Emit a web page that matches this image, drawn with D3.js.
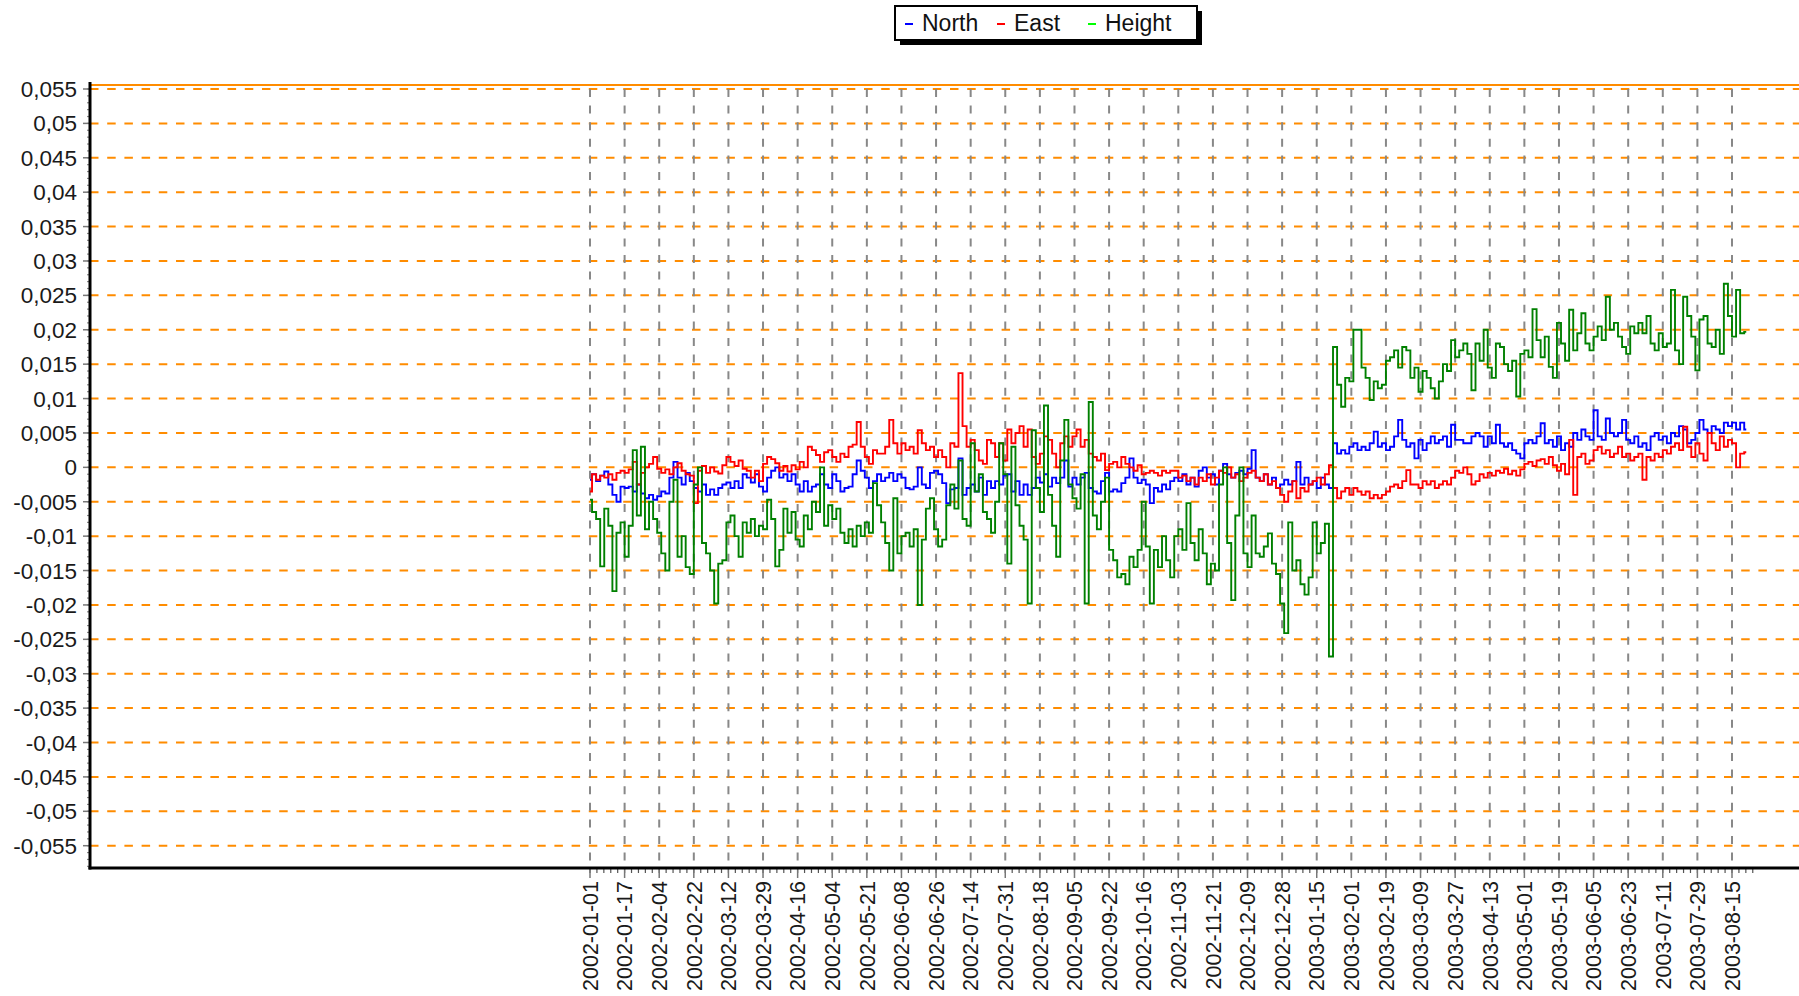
<!DOCTYPE html>
<html>
<head>
<meta charset="utf-8">
<script src="https://cdnjs.cloudflare.com/ajax/libs/d3/7.8.5/d3.min.js"></script>
<style>
  body { margin: 0; background: #fff; }
  svg { display: block; font-family: "Liberation Sans", Arial, sans-serif; }
</style>
</head>
<body>
<div id="chart"></div>
<script>
// tick labels on the x axis (one every 17 daily solutions)
const tickDates = ['2002-01-01','2002-01-17','2002-02-04','2002-02-22','2002-03-12','2002-03-29',
  '2002-04-16','2002-05-04','2002-05-21','2002-06-08','2002-06-26','2002-07-14','2002-07-31',
  '2002-08-18','2002-09-05','2002-09-22','2002-10-16','2002-11-03','2002-11-21','2002-12-09',
  '2002-12-28','2003-01-15','2003-02-01','2003-02-19','2003-03-09','2003-03-27','2003-04-13',
  '2003-05-01','2003-05-19','2003-06-05','2003-06-23','2003-07-11','2003-07-29','2003-08-15'];

// values in mm, every second solution
const north = [
  -1.8,-1.0,-2.0,-1.2,-0.6,-2.5,-4.0,-5.0,-2.8,-3.0,-2.8,-3.5,-2.5,-3.8,-4.5,-4.0,-4.7,-4.2,-3.5,-3.8,
  -1.5,0.8,-1.5,-2.5,-0.8,-2.0,-3.0,-3.5,-2.5,-4.0,-3.2,-4.0,-3.0,-2.5,-2.2,-3.0,-2.0,-3.0,-1.0,-1.5,
  -2.2,-1.0,-2.8,-3.5,-1.5,-0.5,0.0,-1.5,-1.0,-2.0,-1.0,-2.5,-3.5,-2.0,-3.5,-2.8,-2.5,-1.0,-2.5,-3.0,
  -1.0,-2.0,-3.5,-3.0,-2.8,-1.0,1.0,-0.5,-1.5,-3.0,-2.0,-1.0,
  -2.0,-1.5,-0.8,-2.0,-1.0,-1.5,-3.0,-3.2,-2.8,0.0,-2.5,-3.0,-0.8,-0.5,-1.0,-2.3,-5.2,-3.2,-3.0,1.3,
  -4.0,-3.0,-2.5,-3.5,-1.5,-4.0,-2.0,-3.0,-2.0,-2.5,-1.2,-1.0,-3.5,-2.0,-4.0,-2.5,-4.0,-3.0,-1.5,-2.2,
  -1.0,-2.8,-1.5,-2.3,-1.5,1.0,-2.8,-1.5,-2.5,-1.5,-0.8,-3.0,-3.5,-3.8,-2.0,-0.8,-3.5,-3.2,-3.5,-2.3,
  -1.5,1.3,-1.5,-2.3,-1.8,-2.5,-5.2,-3.0,-3.5,-2.5,-3.2,-2.0,
  -1.5,-2.0,-1.0,-2.5,-1.5,-2.8,-0.5,0.0,-1.5,-1.0,-2.5,-0.5,0.5,-1.0,-1.5,-0.8,-0.5,-1.0,-0.2,2.5,
  -1.5,-2.0,-1.0,-2.5,-1.5,-3.0,-2.5,-1.8,-2.5,-2.0,0.8,-2.5,-1.5,-2.5,-2.0,-3.0,-1.5,-2.5,-3.0,3.5,
  2.0,2.5,2.0,3.0,3.5,2.5,3.0,2.5,3.5,5.2,3.0,3.5,2.5,3.0,4.5,6.9,4.0,3.0,3.5,1.3,
  4.0,2.5,3.5,4.5,3.5,4.0,4.5,3.0,6.2,4.0,4.0,3.5,
  3.5,4.5,5.0,4.5,3.0,4.5,3.5,6.2,3.5,3.0,3.5,2.5,2.0,1.3,3.5,4.0,3.5,4.5,6.4,3.5,
  4.0,3.0,4.5,2.5,3.5,3.0,5.0,4.0,5.5,4.5,4.0,8.3,4.5,4.0,7.1,5.0,4.5,5.0,6.9,4.0,
  3.5,4.5,3.0,3.5,2.5,4.5,5.0,4.0,4.5,3.5,5.0,4.5,6.0,5.5,3.5,4.0,5.0,6.9,5.5,5.0,
  6.0,5.5,5.0,6.5,6.0,6.5,5.5,6.5,5.5
];
const east = [
  -3.5,-1.0,-1.8,-1.2,-1.5,-1.0,-1.8,-0.8,-0.5,-0.8,-0.3,0.8,-2.5,-0.8,0.0,0.5,1.5,-0.2,-0.8,-0.3,
  -1.0,0.0,0.6,-0.5,-1.0,-1.2,-5.2,-0.5,0.2,-0.8,0.0,-0.6,-0.9,0.3,1.5,0.8,0.2,1.0,-0.2,-0.5,
  -1.5,-0.5,-2.0,0.5,1.5,1.2,0.6,-0.5,0.2,-0.6,0.3,-0.3,0.8,0.0,3.0,2.5,1.8,0.8,2.2,2.5,
  1.5,0.8,2.0,1.5,3.0,3.3,6.6,3.0,1.5,0.5,2.5,2.0,
  2.0,3.0,6.9,3.5,2.0,3.5,2.5,3.0,2.0,5.4,3.5,2.5,3.0,1.5,2.5,1.5,0.0,3.5,3.0,13.7,
  6.0,3.0,4.0,2.5,1.0,0.5,4.0,3.5,1.5,3.5,1.0,5.5,3.5,5.0,6.0,3.0,5.5,1.5,0.5,2.0,
  4.5,4.0,2.0,0.0,3.5,4.5,3.0,4.5,5.5,3.0,4.0,2.0,1.5,1.0,2.0,-0.4,0.5,0.8,0.0,1.5,
  0.5,0.0,-0.5,0.3,-1.0,-0.8,-0.5,-0.8,-1.2,-0.5,-0.8,-0.5,
  -0.5,-1.5,-1.2,-2.0,-1.5,-2.5,-1.5,-2.0,-1.0,-2.5,-1.5,-0.5,-0.8,0.0,-1.5,-1.0,-2.0,-1.5,-0.8,-0.5,
  -1.5,-2.0,-1.0,-2.5,-2.0,-3.0,-4.0,-5.0,-3.5,-2.0,-4.5,-3.0,-3.5,-2.5,-2.0,-1.5,-2.5,-1.0,0.3,-3.0,
  -4.5,-3.5,-3.0,-4.0,-3.0,-3.5,-4.0,-3.5,-4.5,-4.0,-4.5,-4.0,-3.5,-2.8,-2.5,-3.0,-2.0,-0.4,-2.5,-2.5,
  -3.0,-2.0,-2.5,-2.0,-3.0,-2.5,-2.0,-2.5,-1.5,-0.5,-0.8,0.0,
  -1.0,-2.5,-2.0,-1.0,-1.5,-0.8,-1.2,-0.5,-0.8,-0.2,-1.0,-0.5,-1.2,-0.3,0.5,0.8,0.2,1.0,1.2,0.5,
  1.5,0.3,-0.5,0.5,-1.0,4.0,-4.0,1.5,2.0,0.5,1.0,2.5,3.0,2.0,2.5,1.5,2.0,3.0,1.5,2.0,
  1.0,1.5,2.0,-1.8,1.5,1.0,2.0,1.5,2.5,2.0,3.0,3.5,2.5,5.9,3.0,1.5,3.5,2.0,1.0,5.0,
  3.5,2.5,4.5,3.0,4.0,3.5,0.0,2.0,2.2
];
const height = [
  -4.7,-6.5,-7.5,-14.4,-6.0,-8.5,-18.0,-9.5,-8.0,-13.0,-8.5,2.5,-7.0,3.0,-9.0,-5.0,-7.5,-9.5,-12.5,-15.0,
  -5.0,-1.8,-13.0,-10.0,-14.5,-15.5,-2.5,0.0,-11.0,-12.5,-15.0,-19.8,-14.0,-13.5,-8.0,-7.0,-10.0,-13.0,-8.0,-9.5,
  -7.5,-10.0,-8.5,-9.0,-4.7,-7.5,-14.4,-12.0,-6.0,-9.5,-6.5,-10.5,-11.5,-7.0,-9.0,-5.0,-6.5,0.0,-8.5,-5.5,
  -7.5,-6.0,-9.5,-11.0,-9.0,-11.5,-8.5,-10.0,-8.0,-9.5,-2.3,-5.5,
  -8.0,-11.0,-15.0,-4.5,-12.5,-10.0,-9.5,-11.5,-9.0,-20.0,-10.5,-6.0,-4.5,-9.0,-11.5,-10.5,-5.5,-2.5,-6.0,1.0,
  -7.5,-8.5,3.5,-3.5,-1.0,-6.5,-7.5,-9.5,-5.0,3.5,-1.0,-14.0,3.0,-5.5,-8.5,-10.5,-19.8,5.4,-3.0,-6.5,
  9.0,-4.0,-8.5,-13.0,1.0,6.9,-2.5,-4.5,-6.0,-1.0,-19.8,9.5,-7.0,-9.0,-5.0,-1.5,-12.0,-13.5,-16.0,-15.5,
  -17.0,-13.0,-14.5,-12.0,-5.0,-11.5,-19.8,-12.0,-14.5,-10.0,-13.5,-16.0,
  -10.0,-9.0,-12.0,-5.2,-11.0,-13.5,-9.0,-12.5,-17.0,-14.0,-15.0,-2.5,0.0,-11.0,-19.3,-7.0,0.0,-12.5,-14.5,-7.0,
  -12.5,-13.0,-11.5,-9.6,-14.0,-15.5,-19.8,-24.1,-8.0,-15.0,-13.5,-17.0,-18.5,-16.0,-8.0,-12.5,-11.0,-8.2,-27.5,17.5,
  12.0,8.8,13.0,12.5,20.0,20.0,14.5,13.0,9.8,12.5,11.5,12.0,15.5,16.0,17.0,14.5,17.5,17.0,13.0,14.5,
  11.0,14.0,13.0,11.5,10.0,12.5,15.0,14.0,18.5,16.0,17.0,18.0,
  16.5,11.2,18.0,15.5,20.0,14.5,13.0,18.0,17.5,15.0,14.0,15.5,10.3,16.5,17.0,16.0,23.0,18.5,16.0,19.0,
  14.6,13.0,21.0,18.0,15.5,22.9,17.0,19.5,22.4,18.0,17.0,19.0,20.5,18.5,24.8,20.0,21.0,19.0,17.5,16.5,
  20.5,19.5,21.0,19.5,22.0,18.0,17.0,19.5,17.5,18.0,25.8,17.0,15.0,24.8,22.0,19.0,14.1,21.5,22.0,18.0,
  17.5,20.0,16.5,26.7,22.0,19.0,25.8,19.5,19.7
];

const seriesNames = ['North', 'East', 'Height'];
const lineColors = ['#0000ff', '#ff0000', '#008000'];
const legendColors = ['#0000ff', '#ff0000', '#00ff00'];
const yTicks = d3.range(-11, 12).map(k => k * 0.005);

const W = 1799, H = 996;
const plotLeft = 90, plotTop = 85, plotBottom = 868;
const perTick = 17, step = 2;

const svg = d3.select('#chart').append('svg')
  .attr('width', W)
  .attr('height', H);

const x = d3.scaleLinear()
  .domain([0, (tickDates.length - 1) * perTick])
  .range([590, 1732]);
const y = d3.scaleLinear()
  .domain([-0.055, 0.055])
  .range([845.7, 89]);

// horizontal orange grid
svg.append('g').selectAll('line')
  .data(yTicks)
  .enter().append('line')
  .attr('x1', plotLeft).attr('x2', W)
  .attr('y1', d => y(d)).attr('y2', d => y(d))
  .attr('stroke', '#ff8c00')
  .attr('stroke-width', 2)
  .attr('stroke-dasharray', '8.5,8.7');

svg.append('line')
  .attr('x1', plotLeft).attr('x2', W)
  .attr('y1', plotTop).attr('y2', plotTop)
  .attr('stroke', '#ff8c00')
  .attr('stroke-width', 2);

// vertical grey grid
svg.append('g').selectAll('line')
  .data(tickDates)
  .enter().append('line')
  .attr('x1', (d, i) => x(i * perTick)).attr('x2', (d, i) => x(i * perTick))
  .attr('y1', plotTop + 4).attr('y2', plotBottom)
  .attr('stroke', '#888')
  .attr('stroke-width', 2)
  .attr('stroke-dasharray', '8,8.6');

// y ticks
const minorY = d3.range(-58, 56).map(k => k * 0.001);
svg.append('g').selectAll('line')
  .data(minorY)
  .enter().append('line')
  .attr('x1', plotLeft - 3).attr('x2', plotLeft)
  .attr('y1', d => y(d)).attr('y2', d => y(d))
  .attr('stroke', '#888')
  .attr('stroke-width', 1.2);
svg.append('g').selectAll('line')
  .data(yTicks)
  .enter().append('line')
  .attr('x1', plotLeft - 7).attr('x2', plotLeft)
  .attr('y1', d => y(d)).attr('y2', d => y(d))
  .attr('stroke', '#777')
  .attr('stroke-width', 1.5);

const fmt = v => String(Math.round(v * 1000) / 1000).replace('.', ',');
svg.append('g').selectAll('text')
  .data(yTicks)
  .enter().append('text')
  .attr('x', 77)
  .attr('y', d => y(d))
  .attr('dy', '0.36em')
  .attr('text-anchor', 'end')
  .attr('font-size', 22.5)
  .attr('fill', '#1a1a1a')
  .text(fmt);

// x ticks
const minorX = d3.range(0, (tickDates.length - 1) * 5 + 4).map(k => k * perTick / 5);
svg.append('g').selectAll('line')
  .data(minorX)
  .enter().append('line')
  .attr('x1', d => x(d)).attr('x2', d => x(d))
  .attr('y1', plotBottom).attr('y2', plotBottom + 5)
  .attr('stroke', '#555')
  .attr('stroke-width', 1.2);
svg.append('g').selectAll('line')
  .data(tickDates)
  .enter().append('line')
  .attr('x1', (d, i) => x(i * perTick)).attr('x2', (d, i) => x(i * perTick))
  .attr('y1', plotBottom).attr('y2', plotBottom + 10)
  .attr('stroke', '#777')
  .attr('stroke-width', 1.5);

svg.append('g').selectAll('text')
  .data(tickDates)
  .enter().append('text')
  .attr('transform', (d, i) => `translate(${x(i * perTick)},881) rotate(-90)`)
  .attr('dy', '0.36em')
  .attr('text-anchor', 'end')
  .attr('font-size', 21.5)
  .attr('fill', '#1a1a1a')
  .text(d => d);

// series, drawn as steps like the low-res original
const line = d3.line()
  .curve(d3.curveStep)
  .x((d, i) => x(i * step))
  .y(d => y(d / 1000));

[north, east, height].forEach((s, k) => {
  svg.append('path')
    .datum(s)
    .attr('fill', 'none')
    .attr('stroke', lineColors[k])
    .attr('stroke-width', 1.9)
    .attr('d', line);
});

// axes
svg.append('line')
  .attr('x1', plotLeft).attr('x2', plotLeft)
  .attr('y1', plotTop - 3).attr('y2', plotBottom + 1.5)
  .attr('stroke', '#000').attr('stroke-width', 3);
svg.append('line')
  .attr('x1', plotLeft - 1.5).attr('x2', W)
  .attr('y1', plotBottom).attr('y2', plotBottom)
  .attr('stroke', '#000').attr('stroke-width', 3);

// legend
const lg = svg.append('g');
lg.append('rect')
  .attr('x', 900).attr('y', 11)
  .attr('width', 302).attr('height', 34)
  .attr('fill', '#000');
lg.append('rect')
  .attr('x', 895).attr('y', 6)
  .attr('width', 302).attr('height', 34)
  .attr('fill', '#fff')
  .attr('stroke', '#000').attr('stroke-width', 2);

const legendX = [905, 997, 1088];
const item = lg.selectAll('.item')
  .data(seriesNames)
  .enter().append('g')
  .attr('class', 'item')
  .attr('transform', (d, i) => `translate(${legendX[i]},0)`);
item.append('line')
  .attr('x1', 0).attr('x2', 8)
  .attr('y1', 24).attr('y2', 24)
  .attr('stroke', (d, i) => legendColors[i])
  .attr('stroke-width', 2);
item.append('text')
  .attr('x', 17).attr('y', 31)
  .attr('font-size', 23)
  .attr('fill', '#111')
  .text(d => d);
</script>
</body>
</html>
